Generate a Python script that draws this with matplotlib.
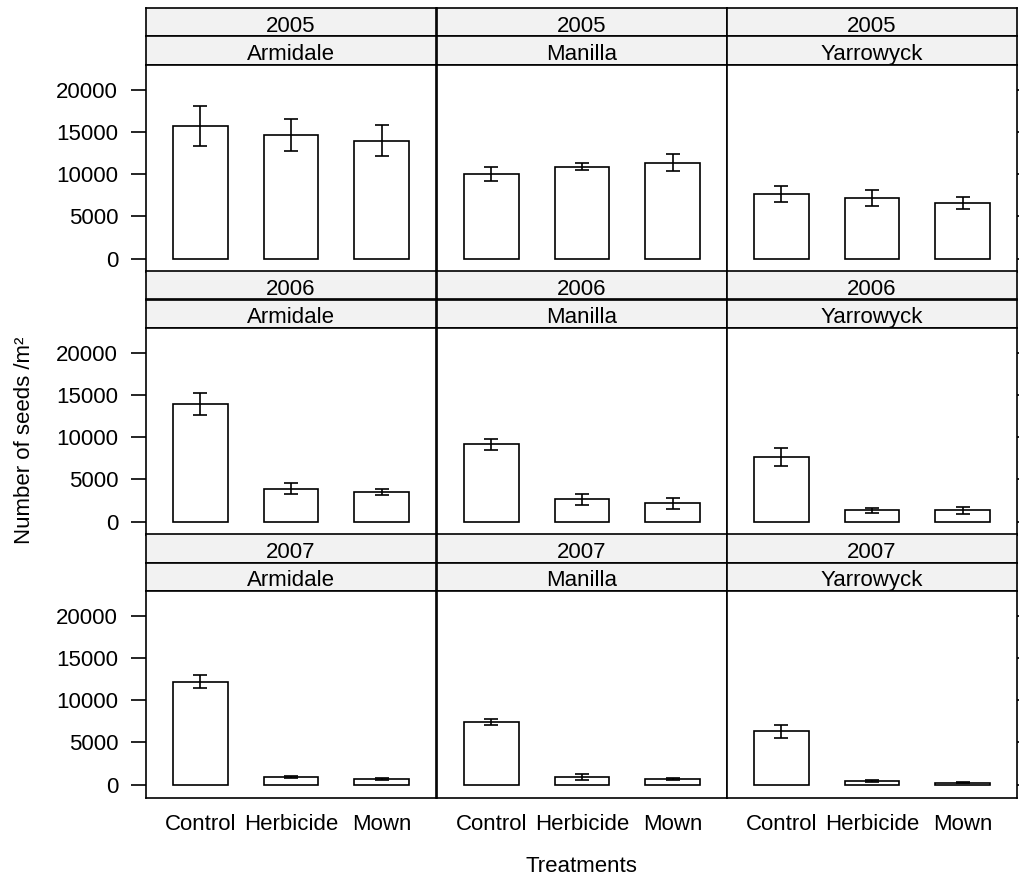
import numpy as np
import matplotlib
matplotlib.use("Agg")
import matplotlib.pyplot as plt

plt.rcParams['font.family'] = ['Liberation Sans', 'DejaVu Sans']

# data
years = ["2005", "2006", "2007"]
sites = ["Armidale", "Manilla", "Yarrowyck"]
treatments = ["Control", "Herbicide", "Mown"]

# mean seeds per m2, [year][site][treatment]
means = [
    [[15700, 14600, 13950], [10030, 10900, 11330], [7660, 7180, 6590]],
    [[13950, 3910, 3520], [9170, 2650, 2180], [7630, 1350, 1350]],
    [[12200, 900, 710], [7460, 900, 710], [6350, 430, 240]],
]
# standard errors
errors = [
    [[2370, 1880, 1860], [790, 420, 1000], [990, 960, 750]],
    [[1300, 670, 320], [650, 650, 630], [1090, 340, 450]],
    [[790, 150, 100], [350, 350, 100], [770, 80, 60]],
]

W, H = 1019, 880
fig = plt.figure(figsize=(W / 100, H / 100), dpi=100)

col_left = [146, 437, 727]
col_w = 290
row_top = [8, 271, 534]   # top of first strip, pixels from top
strip_h = 28.5
panel_h = 206.5
fs = 16

ytick_vals = [0, 5000, 10000, 15000, 20000]
x = np.arange(1, 4)
lw = 1.2


def px(l, t, w, h):
    return [l / W, 1 - (t + h) / H, w / W, h / H]


for r, yr in enumerate(years):
    for c, site in enumerate(sites):
        l = col_left[c]
        t0 = row_top[r]
        # two strips
        for k, label in enumerate([yr, site]):
            sax = fig.add_axes(px(l, t0 + k * strip_h, col_w, strip_h))
            sax.set_facecolor('#f2f2f2')
            sax.set_xticks([])
            sax.set_yticks([])
            for s in sax.spines.values():
                s.set_linewidth(lw)
            sax.text(0.5, 0.36, label, ha='center', va='center',
                     fontsize=fs, transform=sax.transAxes)
        ax = fig.add_axes(px(l, t0 + 2 * strip_h, col_w, panel_h))
        ax.bar(x, means[r][c], width=0.6, color='white',
               edgecolor='black', linewidth=lw)
        ax.errorbar(x, means[r][c], yerr=errors[r][c], fmt='none',
                    ecolor='black', elinewidth=lw, capsize=5, capthick=lw)
        ax.set_xlim(0.4, 3.6)
        ax.set_ylim(-1500, 22900)
        for s in ax.spines.values():
            s.set_linewidth(lw)
        ax.set_yticks(ytick_vals)
        ax.tick_params(axis='y', direction='out', length=11, width=lw,
                       left=(c == 0), right=(c == 2),
                       labelleft=(c == 0), labelright=False,
                       labelsize=fs, pad=9)
        ax.set_xticks(x)
        if r == 2:
            ax.set_xticklabels(treatments, fontsize=fs)
            ax.tick_params(axis='x', length=0, pad=12)
        else:
            ax.set_xticklabels([])
            ax.tick_params(axis='x', length=0)

fig.text(25 / W, 1 - 440 / H, 'Number of seeds /m²', rotation=90,
         ha='center', va='center', fontsize=fs)
fig.text(581 / W, 1 - 866 / H, 'Treatments', ha='center', va='center',
         fontsize=fs)

fig.savefig('out.png', dpi=100)
